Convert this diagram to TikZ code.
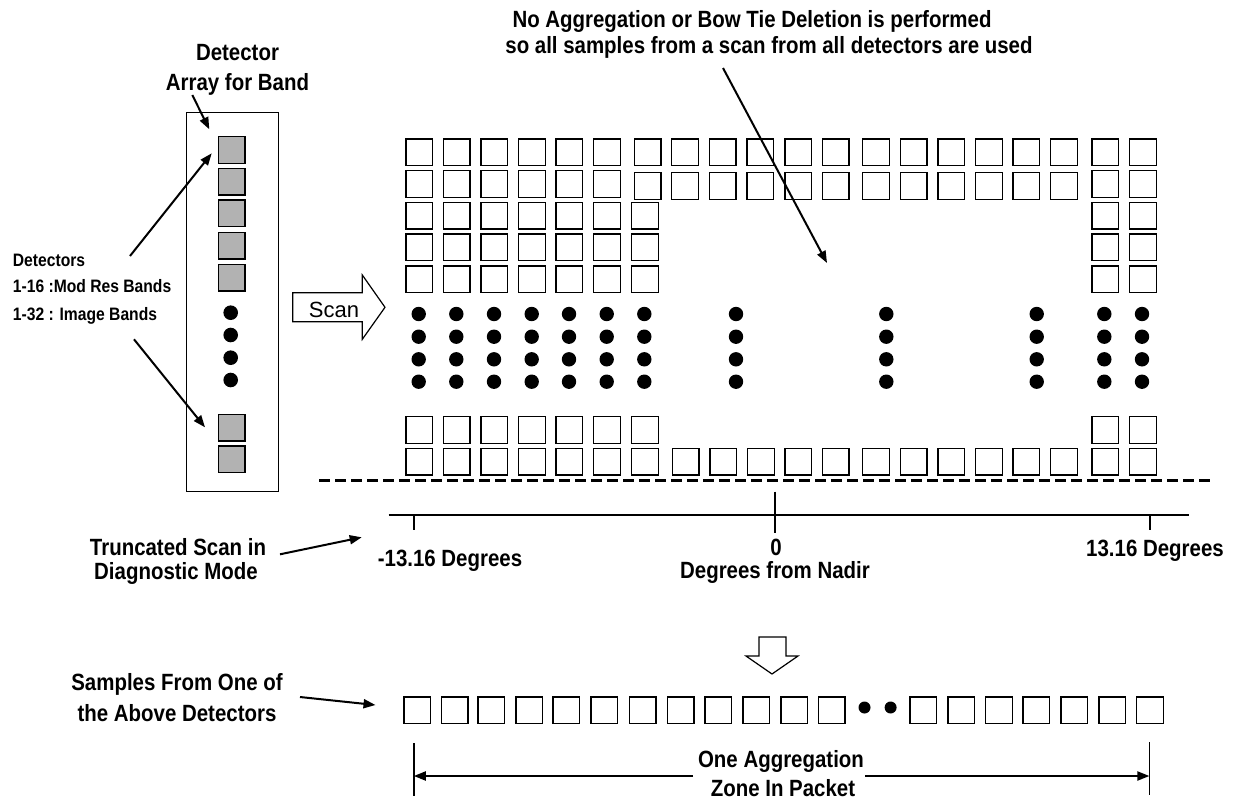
\documentclass[tikz,border=0pt]{standalone}
\usepackage{fontspec}
\setmainfont{Liberation Sans}
\newfontfamily\nar{Liberation Sans}[FakeStretch=0.87]
\usetikzlibrary{arrows.meta}
\begin{document}
\begin{tikzpicture}[x=1pt,y=-1pt,
  lbl/.style={font=\nar\bfseries\fontsize{23.5}{26}\selectfont, inner sep=0pt, anchor=base},
  smalllbl/.style={font=\nar\bfseries\fontsize{18}{20}\selectfont, inner sep=0pt, anchor=base west},
  sq/.style={draw, line width=1.4pt},
  gsq/.style={draw, fill=black!30, line width=1.4pt},
  arr/.style={line width=2pt, -{Triangle[length=12pt,width=9pt]}},
  blockarrow/.style={draw, line width=1.2pt, fill=white},
  dotfill/.style={fill=black}
]
\useasboundingbox (0,0) rectangle (1239,803);

% ---------- detector array ----------
\draw[line width=1.3pt] (186.7,112.7) rectangle (278.7,491.7);
\foreach \y in {136.7,168.3,200,232.3,264.3,414.3,446}
  \draw[gsq] (218.3,\y) rectangle ++(26.7,26.7);
\foreach \y in {312.7,335,357.7,380}
  \fill[dotfill] (230.7,\y) circle (7.3);

\node[lbl] (dt1) at (237.5,60) {Detector};
\node[lbl] (dt2) at (237.5,90) {Array for Band};

\node[smalllbl] (d1) at (12.7,266.7) {Detectors};
\node[smalllbl] (d2) at (12.7,292.7) {1-16 :Mod Res Bands};
\node[smalllbl] (d3) at (12.7,320) {1-32 : Image Bands};

\coordinate (tA) at (192.3,95);   \coordinate (tB) at (209.3,129.3);
\coordinate (uA) at (130,256);    \coordinate (uB) at (211.7,153.3);
\coordinate (wA) at (134,339.3);  \coordinate (wB) at (205,427.3);
\draw[arr] (tA) -- (tB);
\draw[arr] (uA) -- (uB);
\draw[arr] (wA) -- (wB);

% ---------- scan block arrow ----------
\draw[blockarrow] (292.7,292.7) -- (362.3,292.7) -- (362.3,275) -- (385,307.3)
  -- (362.3,339.3) -- (362.3,321.7) -- (292.7,321.7) -- cycle;
\node[font=\fontsize{22}{24}\selectfont, inner sep=0pt, anchor=base] (scan) at (334,317.7) {Scan};

% ---------- sample grid ----------
% row 1
\foreach \x in {406,443.5,481,518.7,556,593.7,634.3,671.7,709.3,747,785,822.3,862.7,900.3,938,975.7,1013,1050.7,1092,1129.7}
  \draw[sq] (\x,139) rectangle ++(26.5,26.5);
% row 2
\foreach \x in {406,443.5,481,518.7,556,593.7,1092,1129.7}
  \draw[sq] (\x,170.7) rectangle ++(26.5,26.5);
\foreach \x in {634.3,671.7,709.3,747,785,822.3,862.7,900.3,938,975.7,1013,1050.7}
  \draw[sq] (\x,172.7) rectangle ++(26.5,26.5);
% rows 3-5 and second-last
\foreach \y in {202.3,234,266,416.7}
  \foreach \x in {406,443.5,481,518.7,556,593.7,631.7,1092,1129.7}
    \draw[sq] (\x,\y) rectangle ++(26.5,26.5);
% last row
\foreach \x in {406,443.5,481,518.7,556,593.7,631.7,672.3,710,747.7,785,822.3,862.7,900.3,938,975.7,1013,1050.7,1092,1129.7}
  \draw[sq] (\x,448.3) rectangle ++(26.5,26.5);
% dots
\foreach \x in {418.7,456.3,494,531.7,569,606.7,644.3,736,886.3,1036.7,1104.3,1142}
  \foreach \y in {314,336.7,359.3,381.7}
    \fill[dotfill] (\x,\y) circle (7.2);

% top note
\node[lbl] (n1) at (752,27.3) {No Aggregation or Bow Tie Deletion is performed};
\node[lbl] (n2) at (769,53.3) {so all samples from a scan from all detectors are used};
\coordinate (mA) at (723,68); \coordinate (mB) at (827,263);
\draw[arr] (mA) -- (mB);

% ---------- dashed line and axis ----------
\draw[line width=2.2pt, dash pattern=on 11pt off 5pt] (319,480.5) -- (1213,480.5);
\draw[line width=1.4pt] (388.6,515) -- (1189,515);
\draw[line width=1.2pt] (414,515) -- (414,530);
\draw[line width=1.2pt] (775,491.7) -- (775,533);
\draw[line width=1.2pt] (1150,515) -- (1150,530);

\node[lbl] (tr1) at (178,555) {Truncated Scan in};
\node[lbl] (tr2) at (176,579.3) {Diagnostic Mode};
\coordinate (trA) at (280,554.3); \coordinate (trB) at (361.7,537.3);
\draw[arr] (trA) -- (trB);

\node[lbl] (lm) at (450,566.7) {-13.16 Degrees};
\node[lbl] (z0) at (776,555) {0};
\node[lbl] (dn) at (775,578.3) {Degrees from Nadir};
\node[lbl] (rm) at (1155,556.7) {13.16 Degrees};

% ---------- down block arrow ----------
\draw[blockarrow] (759,637) -- (786,637) -- (786,656) -- (798,656) -- (772,674)
  -- (746,656) -- (759,656) -- cycle;

% ---------- one detector's samples ----------
\node[lbl] (s1) at (177,690) {Samples From One of};
\node[lbl] (s2) at (177,721.7) {the Above Detectors};
\coordinate (sA) at (300,697); \coordinate (sB) at (375.5,705);
\draw[arr] (sA) -- (sB);

\foreach \x in {404,441.5,478,515.8,553,591,629.4,667.3,705,742.9,780.8,818.4,910,947.8,985.7,1023,1061,1098.8,1136.7}
  \draw[sq] (\x,697) rectangle ++(26.5,26.5);
\fill[dotfill] (864.5,707.5) circle (6);
\fill[dotfill] (890.6,707.5) circle (6);

% zone arrow
\coordinate (zl) at (413.8,776); \coordinate (zr) at (1149.4,776);
\draw[line width=1.4pt] (413.8,743) -- (413.8,796);
\draw[line width=1.4pt] (1149.4,742) -- (1149.4,795);
\node[lbl] (za) at (781,767.3) {One Aggregation};
\node[lbl] (zb) at (783,796.7) {Zone In Packet};
\coordinate (zla) at (693,776); \coordinate (zrb) at (865,776);
\draw[arr] (zla) -- (zl);
\draw[arr] (zrb) -- (zr);
\end{tikzpicture}
\end{document}
